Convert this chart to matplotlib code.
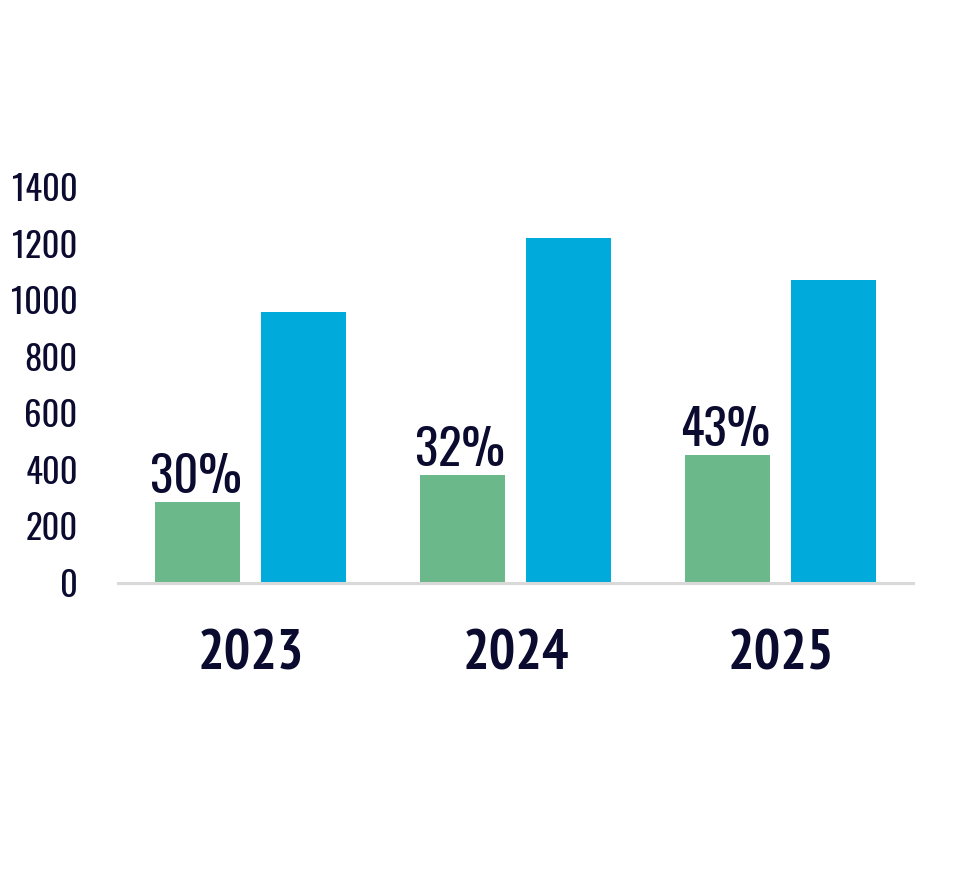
import matplotlib
matplotlib.use('Agg')
import matplotlib.pyplot as plt
import numpy as np

# 数据
years = ['2023', '2024', '2025']
green_vals = [286, 382, 452]
blue_vals = [958, 1220, 1071]
pct_labels = ['30%', '32%', '43%']
y_ticks = [0, 200, 400, 600, 800, 1000, 1200, 1400]

GREEN = '#6bb88a'
BLUE = '#00aadb'
TEXT = '#0b0b30'
AXIS = '#d9d9d9'

NUM_FONT = ['Oswald', 'Barlow Condensed', 'DejaVu Sans']
YEAR_FONT = ['PT Sans Narrow', 'Roboto Condensed', 'Barlow Condensed', 'DejaVu Sans']

fig = plt.figure(figsize=(9.65, 8.84), dpi=100)
ax = fig.add_axes([118 / 965, 301 / 884, 795 / 965, 396 / 884])

x = np.arange(len(years))
w = 0.317
ax.bar(x - 0.2, green_vals, width=w, color=GREEN)
ax.bar(x + 0.2, blue_vals, width=w, color=BLUE)

# 百分比标签
for xi, v, s in zip(x, green_vals, pct_labels):
    ax.annotate(s, xy=(xi - 0.2, v), xytext=(-1.5, 6.5), textcoords='offset points',
                ha='center', va='baseline', fontsize=35, fontweight=500,
                color=TEXT, family=NUM_FONT)

ax.set_xlim(-0.5, 2.5)
ax.set_ylim(0, 1400)
ax.set_yticks(y_ticks)
ax.set_yticklabels([str(t) for t in y_ticks], family=NUM_FONT, fontsize=25,
                   fontweight=600, color=TEXT)
ax.set_xticks(x)
ax.set_xticklabels(years, family=YEAR_FONT, fontsize=40, fontweight='bold', color=TEXT)
for lab in ax.get_xticklabels():
    lab.set_va('baseline')
ax.tick_params(axis='y', length=0, pad=29)
ax.tick_params(axis='x', length=0, pad=62.6)

for sp in ['top', 'right', 'left']:
    ax.spines[sp].set_visible(False)
ax.spines['bottom'].set_color(AXIS)
ax.spines['bottom'].set_linewidth(2.2)

fig.savefig('out.png', dpi=100)
